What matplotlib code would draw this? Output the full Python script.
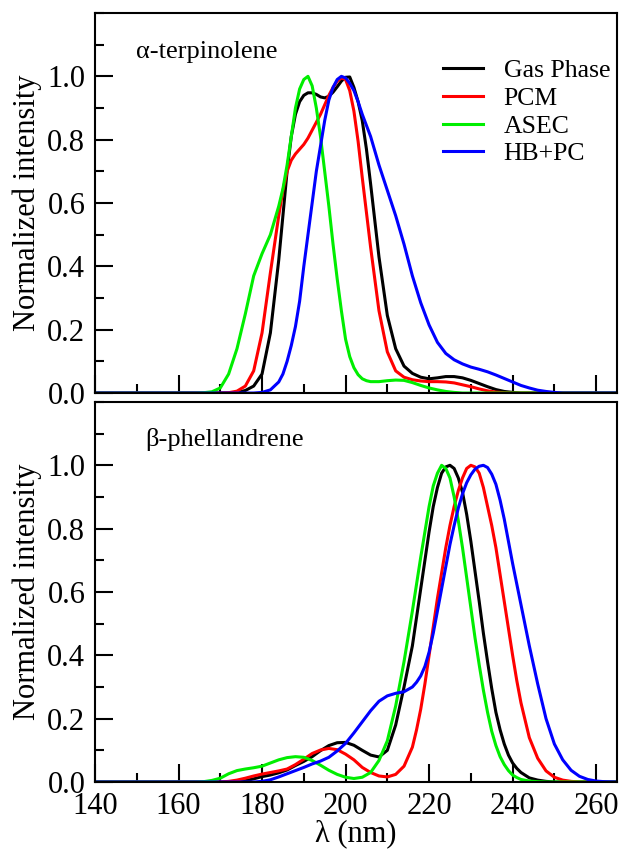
import matplotlib
matplotlib.use("Agg")
import matplotlib.pyplot as plt
from matplotlib.ticker import MultipleLocator, FixedLocator

plt.rcParams['font.family'] = ['Liberation Serif', 'DejaVu Serif']

# ---------------- data: alpha-terpinolene (top panel) ----------------
wl_top = ([140, 162, 164, 166, 168, 170, 172, 174, 176, 178, 180, 182]
          + [184, 185, 186, 187, 188, 189, 190, 191, 192, 193, 194, 195, 196, 197, 198,
             199, 200, 201, 202, 203, 204, 205, 206]
          + [208, 210, 212, 214, 216, 218, 220, 222, 224, 226, 228, 230, 232, 234, 236,
             238, 240, 242, 244, 246, 248, 250, 252, 254, 265])
top_gas = ([0, 0, 0, 0, 0, 0, 0, 0.002, 0.008, 0.022, 0.06, 0.19]
           + [0.42, 0.56, 0.70, 0.81, 0.88, 0.92, 0.94, 0.948, 0.948, 0.943, 0.935, 0.932, 0.937, 0.95, 0.967,
              0.985, 0.997, 0.998, 0.965, 0.92, 0.86, 0.77, 0.66]
           + [0.43, 0.245, 0.14, 0.085, 0.062, 0.05, 0.045, 0.048, 0.052, 0.052, 0.048, 0.04, 0.03, 0.02, 0.011,
              0.005, 0.002, 0, 0, 0, 0, 0, 0, 0, 0])
top_pcm = ([0, 0, 0, 0, 0, 0, 0.001, 0.006, 0.022, 0.07, 0.19, 0.38]
           + [0.56, 0.64, 0.70, 0.735, 0.755, 0.77, 0.785, 0.805, 0.83, 0.855, 0.88, 0.91, 0.94, 0.965, 0.985,
              0.995, 0.99, 0.955, 0.89, 0.795, 0.68, 0.57, 0.46]
           + [0.26, 0.13, 0.07, 0.05, 0.042, 0.038, 0.036, 0.036, 0.035, 0.032, 0.026, 0.02, 0.013, 0.007, 0.003,
              0.001, 0, 0, 0, 0, 0, 0, 0, 0, 0])
top_asec = ([0, 0, 0, 0.001, 0.004, 0.016, 0.06, 0.14, 0.25, 0.37, 0.44, 0.50]
            + [0.59, 0.645, 0.72, 0.81, 0.90, 0.96, 0.99, 1.0, 0.97, 0.90, 0.81, 0.70, 0.59, 0.47, 0.36,
               0.26, 0.17, 0.115, 0.08, 0.058, 0.045, 0.039, 0.036]
            + [0.036, 0.039, 0.041, 0.04, 0.033, 0.024, 0.016, 0.01, 0.005, 0.002, 0, 0, 0, 0, 0,
               0, 0, 0, 0, 0, 0, 0, 0, 0, 0])
top_hbpc = ([0, 0, 0, 0, 0, 0, 0, 0, 0, 0, 0.002, 0.01]
            + [0.035, 0.06, 0.10, 0.15, 0.21, 0.29, 0.40, 0.50, 0.60, 0.70, 0.78, 0.86, 0.925, 0.965, 0.99,
               1.0, 0.995, 0.978, 0.955, 0.92, 0.88, 0.845, 0.81]
            + [0.72, 0.64, 0.56, 0.47, 0.37, 0.285, 0.215, 0.16, 0.125, 0.105, 0.092, 0.082, 0.075, 0.067, 0.057,
               0.046, 0.035, 0.024, 0.016, 0.009, 0.005, 0.002, 0, 0, 0])

# ---------------- data: beta-phellandrene (bottom panel) ----------------
wl_bot = ([140, 162, 164, 166, 168, 170, 172, 174, 176, 178, 180, 182, 184, 186, 188,
           190, 192, 194, 196, 198, 200, 202, 204, 206, 208, 210, 212, 214]
          + [216, 217, 218, 219, 220, 221, 222, 223, 224, 225, 226, 227, 228, 229, 230,
             231, 232, 233, 234, 235, 236, 237, 238, 239, 240, 241, 242]
          + [244, 246, 248, 250, 252, 254, 256, 258, 260, 262, 265])
bot_gas = ([0, 0, 0, 0, 0, 0, 0, 0.001, 0.004, 0.01, 0.017, 0.022, 0.029, 0.038, 0.052,
            0.065, 0.08, 0.099, 0.115, 0.124, 0.125, 0.116, 0.10, 0.085, 0.079, 0.10, 0.18, 0.30]
           + [0.43, 0.52, 0.61, 0.70, 0.79, 0.87, 0.93, 0.975, 0.995, 1.0, 0.99, 0.96, 0.915, 0.845, 0.76,
              0.665, 0.57, 0.47, 0.38, 0.295, 0.22, 0.165, 0.12, 0.085, 0.06, 0.043, 0.03]
           + [0.013, 0.006, 0.002, 0, 0, 0, 0, 0, 0, 0, 0])
bot_pcm = ([0, 0, 0, 0, 0, 0, 0.002, 0.006, 0.012, 0.019, 0.025, 0.03, 0.035, 0.041, 0.055,
            0.072, 0.09, 0.101, 0.106, 0.102, 0.088, 0.07, 0.046, 0.03, 0.019, 0.016, 0.024, 0.05]
           + [0.11, 0.165, 0.23, 0.31, 0.40, 0.49, 0.58, 0.66, 0.74, 0.81, 0.87, 0.92, 0.96, 0.99, 1.0,
              0.995, 0.975, 0.93, 0.87, 0.81, 0.74, 0.655, 0.57, 0.485, 0.40, 0.32, 0.25]
           + [0.14, 0.075, 0.035, 0.015, 0.006, 0.002, 0, 0, 0, 0, 0])
bot_asec = ([0, 0, 0, 0.001, 0.005, 0.012, 0.026, 0.036, 0.041, 0.045, 0.05, 0.06, 0.07, 0.077, 0.08,
             0.078, 0.068, 0.053, 0.037, 0.024, 0.015, 0.011, 0.015, 0.03, 0.068, 0.13, 0.24, 0.38]
            + [0.54, 0.625, 0.71, 0.79, 0.87, 0.935, 0.975, 1.0, 0.99, 0.96, 0.90, 0.825, 0.74, 0.645, 0.55,
               0.455, 0.37, 0.29, 0.22, 0.16, 0.115, 0.08, 0.055, 0.036, 0.022, 0.014, 0.008]
            + [0.003, 0.001, 0, 0, 0, 0, 0, 0, 0, 0, 0])
bot_hbpc = ([0, 0, 0, 0, 0, 0, 0, 0, 0, 0, 0.002, 0.007, 0.016, 0.026, 0.036,
             0.046, 0.057, 0.066, 0.078, 0.098, 0.122, 0.155, 0.19, 0.225, 0.255, 0.272, 0.28, 0.285]
            + [0.30, 0.315, 0.335, 0.365, 0.41, 0.47, 0.54, 0.61, 0.68, 0.75, 0.81, 0.865, 0.91, 0.945, 0.97,
               0.988, 0.997, 1.0, 0.993, 0.972, 0.94, 0.89, 0.83, 0.76, 0.69, 0.625, 0.56]
            + [0.43, 0.31, 0.20, 0.12, 0.07, 0.037, 0.018, 0.008, 0.003, 0.001, 0])

series_names = ["Gas Phase", "PCM", "ASEC", "HB+PC"]
colors = ["#000000", "#ff0000", "#00ee00", "#0000ff"]
panel_labels = ["α-terpinolene", "β-phellandrene"]
x_ticks = [140, 160, 180, 200, 220, 240, 260]
y_ticks = [0.0, 0.2, 0.4, 0.6, 0.8, 1.0]

for ys in (top_gas, top_pcm, top_asec, top_hbpc):
    assert len(ys) == len(wl_top), len(ys)
for ys in (bot_gas, bot_pcm, bot_asec, bot_hbpc):
    assert len(ys) == len(wl_bot), len(ys)

fig = plt.figure(figsize=(6.2, 8.5), dpi=100)
ax1 = fig.add_axes([0.1532, 0.5376, 0.842, 0.4471])
ax2 = fig.add_axes([0.1532, 0.08, 0.842, 0.4471])

panels = [
    (ax1, wl_top, [top_gas, top_pcm, top_asec, top_hbpc], (0.078, 0.897)),
    (ax2, wl_bot, [bot_gas, bot_pcm, bot_asec, bot_hbpc], (0.096, 0.900)),
]

for i, (ax, wl, ys, lpos) in enumerate(panels):
    for name, y, c in zip(series_names, ys, colors):
        ax.plot(wl, y, color=c, lw=2.2, label=name, solid_joinstyle='round')
    ax.set_xlim(140, 265)
    ax.set_ylim(0, 1.2)
    ax.xaxis.set_major_locator(FixedLocator(x_ticks))
    ax.xaxis.set_minor_locator(MultipleLocator(10))
    ax.yaxis.set_major_locator(FixedLocator(y_ticks))
    ax.yaxis.set_minor_locator(MultipleLocator(0.1))
    ax.tick_params(axis='both', which='major', direction='in', length=13, width=1.5,
                   labelsize=22, pad=7, top=False, right=False)
    ax.tick_params(axis='both', which='minor', direction='in', length=6.5, width=1.5,
                   top=False, right=False)
    ax.set_yticklabels([f"{t:.1f}" for t in y_ticks])
    for s in ax.spines.values():
        s.set_linewidth(1.5)
    ax.set_ylabel("Normalized intensity", fontsize=22, labelpad=4)
    ax.text(lpos[0], lpos[1], panel_labels[i], transform=ax.transAxes,
            fontsize=19, ha='left', va='center')

ax1.tick_params(axis='x', labelbottom=False)
ax2.set_xticklabels([str(t) for t in x_ticks])
ax2.set_xlabel("λ (nm)", fontsize=22, labelpad=-1)

ax1.legend(loc='upper left', bbox_to_anchor=(0.647, 0.905), frameon=False, fontsize=18.5,
           handlelength=1.56, handletextpad=0.8, labelspacing=0.18, borderaxespad=0)

fig.savefig("out.png", dpi=100)
